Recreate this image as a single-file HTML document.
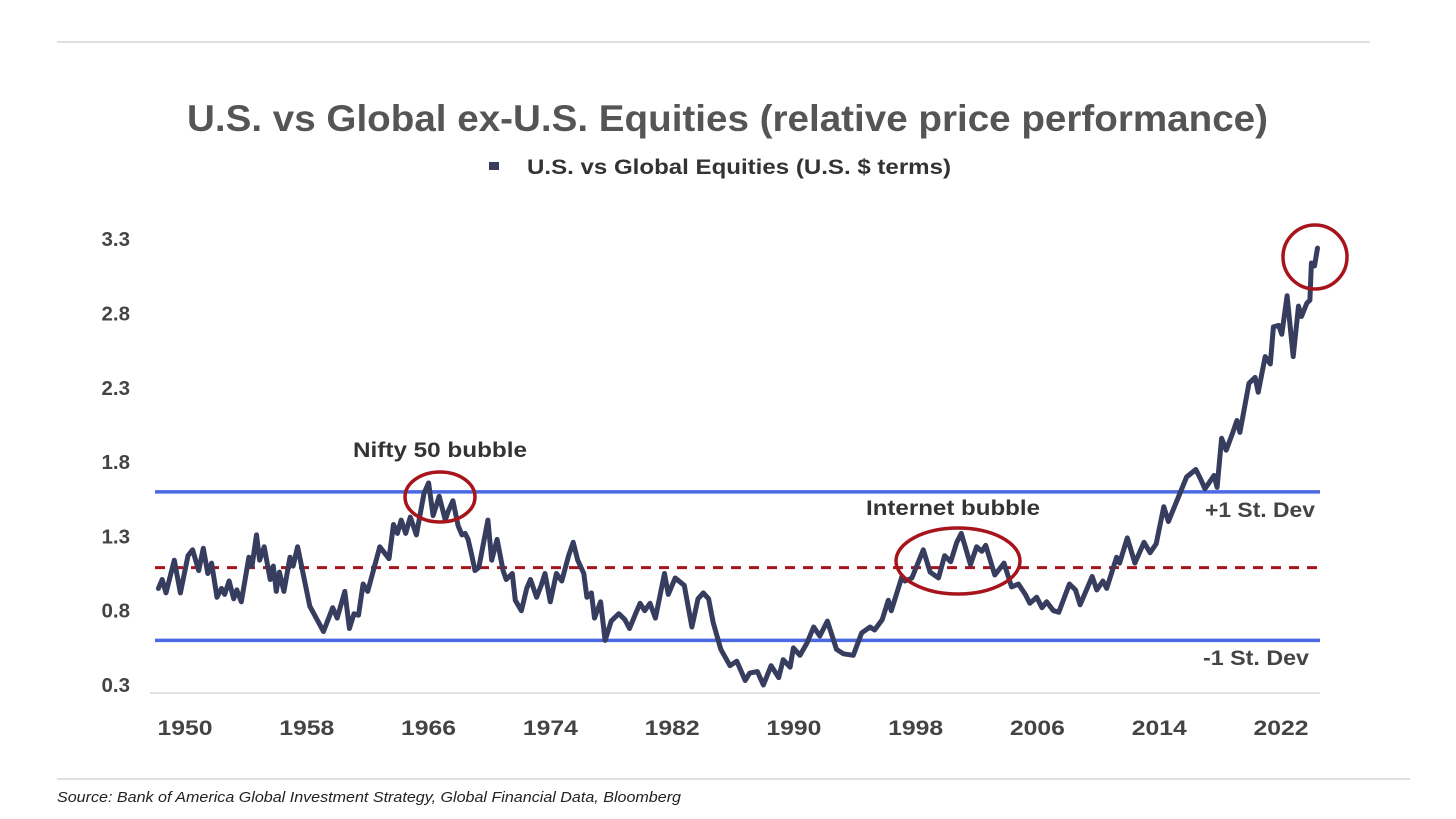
<!DOCTYPE html>
<html><head><meta charset="utf-8">
<style>
html,body{margin:0;padding:0;background:#fff;}
svg{display:block;font-family:"Liberation Sans",Arial,sans-serif;}
</style></head>
<body>
<svg id="chart" width="1456" height="819" viewBox="0 0 1456 819" xmlns="http://www.w3.org/2000/svg">
<line x1="57" y1="42" x2="1370" y2="42" stroke="#d6d6d6" stroke-width="1.5"/>
<text x="187" y="131" textLength="1081" lengthAdjust="spacingAndGlyphs" font-size="37" font-weight="bold" fill="#555">U.S. vs Global ex-U.S. Equities (relative price performance)</text>
<g>
<rect x="489" y="162" width="10" height="8" fill="#363d5e"/>
<text x="527" y="174" textLength="424" lengthAdjust="spacingAndGlyphs" font-size="21.5" font-weight="bold" fill="#333">U.S. vs Global Equities (U.S. $ terms)</text>
</g>
<g id="yaxis"></g>
<g id="xaxis"></g>
<g id="refs"></g>
<g id="series"></g>
<g>
<text x="353" y="457" textLength="174" lengthAdjust="spacingAndGlyphs" font-size="21" font-weight="bold" fill="#333">Nifty 50 bubble</text>
<ellipse cx="440" cy="497" rx="35" ry="25" fill="none" stroke="#a8141c" stroke-width="3.5"/>
<text x="866" y="515" textLength="174" lengthAdjust="spacingAndGlyphs" font-size="21" font-weight="bold" fill="#333">Internet bubble</text>
<ellipse cx="958" cy="561" rx="62" ry="33" fill="none" stroke="#a8141c" stroke-width="3.5"/>
<circle cx="1315" cy="257" r="32" fill="none" stroke="#a8141c" stroke-width="3.5"/>
<text x="1205" y="517" textLength="110" lengthAdjust="spacingAndGlyphs" font-size="21" font-weight="bold" fill="#444">+1 St. Dev</text>
<text x="1203" y="665" textLength="106" lengthAdjust="spacingAndGlyphs" font-size="21" font-weight="bold" fill="#444">-1 St. Dev</text>
</g>
<line x1="57" y1="779" x2="1410" y2="779" stroke="#d6d6d6" stroke-width="1.5"/>
<text x="57" y="802" textLength="624" lengthAdjust="spacingAndGlyphs" font-size="15" font-style="italic" fill="#222">Source: Bank of America Global Investment Strategy, Global Financial Data, Bloomberg</text>
</svg>
<script>
const yTicks=[0.3,0.8,1.3,1.8,2.3,2.8,3.3];
const xTicks=[1950,1958,1966,1974,1982,1990,1998,2006,2014,2022];
const refValues=[1.60,1.09,0.60];
const years=[1948.25,1948.5,1948.75,1949.3,1949.7,1950.2,1950.5,1950.9,1951.2,1951.5,1951.75,1952.1,1952.4,1952.6,1952.9,1953.2,1953.4,1953.7,1954.2,1954.4,1954.7,1954.9,1955.2,1955.6,1955.8,1956.0,1956.2,1956.5,1956.9,1957.1,1957.4,1958.2,1959.1,1959.7,1960.0,1960.5,1960.8,1961.1,1961.4,1961.7,1962.0,1962.8,1963.4,1963.7,1963.95,1964.2,1964.5,1964.8,1965.2,1965.7,1966.0,1966.3,1966.7,1967.1,1967.3,1967.6,1967.95,1968.2,1968.4,1968.6,1968.8,1969.05,1969.3,1969.9,1970.15,1970.5,1970.9,1971.1,1971.5,1971.7,1972.1,1972.45,1972.7,1973.1,1973.4,1973.65,1974.0,1974.4,1974.75,1975.2,1975.5,1975.8,1976.2,1976.4,1976.7,1976.9,1977.3,1977.6,1978.0,1978.5,1978.9,1979.2,1979.6,1979.9,1980.2,1980.55,1980.9,1981.5,1981.75,1982.2,1982.8,1983.3,1983.7,1984.05,1984.4,1984.7,1985.2,1985.8,1986.25,1986.8,1987.1,1987.6,1988.0,1988.5,1989.0,1989.3,1989.75,1989.97,1990.4,1990.85,1991.3,1991.7,1992.2,1992.8,1993.25,1993.9,1994.45,1995.0,1995.3,1995.8,1996.2,1996.4,1997.1,1997.3,1997.75,1998.5,1998.95,1999.5,1999.9,2000.3,2000.7,2001.0,2001.6,2002.0,2002.35,2002.6,2003.2,2003.8,2004.3,2004.75,2005.2,2005.5,2005.95,2006.3,2006.6,2007.05,2007.4,2008.1,2008.5,2008.8,2009.6,2009.9,2010.3,2010.55,2011.2,2011.4,2011.9,2012.4,2013.0,2013.4,2013.8,2014.3,2014.6,2015.8,2016.4,2016.7,2017.0,2017.6,2017.8,2018.1,2018.4,2018.8,2019.1,2019.3,2019.9,2020.3,2020.5,2020.96,2021.3,2021.5,2021.85,2022.05,2022.4,2022.8,2023.15,2023.35,2023.7,2023.9,2024.0,2024.2,2024.4];
const values=[0.95,1.01,0.92,1.14,0.92,1.17,1.21,1.07,1.22,1.05,1.12,0.89,0.95,0.91,1.00,0.88,0.94,0.86,1.16,1.10,1.31,1.14,1.23,1.01,1.10,0.93,1.06,0.93,1.16,1.10,1.23,0.83,0.66,0.82,0.75,0.93,0.68,0.78,0.77,0.98,0.93,1.23,1.15,1.38,1.32,1.41,1.32,1.43,1.31,1.59,1.66,1.44,1.57,1.41,1.47,1.54,1.37,1.31,1.32,1.28,1.19,1.07,1.09,1.41,1.14,1.28,1.07,1.01,1.05,0.87,0.80,0.95,1.01,0.89,0.97,1.05,0.86,1.05,1.00,1.17,1.26,1.14,1.05,0.89,0.92,0.75,0.86,0.60,0.73,0.78,0.74,0.68,0.78,0.85,0.80,0.85,0.75,1.05,0.91,1.02,0.97,0.69,0.88,0.92,0.88,0.72,0.54,0.43,0.46,0.33,0.38,0.39,0.30,0.43,0.35,0.47,0.42,0.55,0.50,0.58,0.69,0.63,0.73,0.54,0.51,0.50,0.65,0.69,0.67,0.74,0.87,0.80,1.03,1.00,1.02,1.21,1.06,1.02,1.17,1.13,1.26,1.32,1.11,1.23,1.20,1.24,1.04,1.12,0.96,0.98,0.91,0.85,0.89,0.82,0.86,0.80,0.79,0.98,0.94,0.84,1.03,0.94,1.00,0.95,1.16,1.12,1.29,1.12,1.26,1.19,1.25,1.50,1.40,1.70,1.75,1.69,1.62,1.71,1.63,1.96,1.88,1.99,2.08,2.00,2.33,2.37,2.27,2.51,2.46,2.71,2.72,2.66,2.92,2.51,2.85,2.78,2.87,2.89,3.14,3.12,3.24];

const NS='http://www.w3.org/2000/svg';
function X(yr){return 185+(yr-1950)*(1281-185)/72;}
function Y(v){return 685-(v-0.3)*148.6;}
function mk(tag,attrs,parent){const e=document.createElementNS(NS,tag);for(const k in attrs)e.setAttribute(k,attrs[k]);parent.appendChild(e);return e;}

const ya=document.getElementById('yaxis');
yTicks.forEach(t=>{
  const tx=mk('text',{x:130,y:Y(t)+7,'text-anchor':'end','font-size':20.5,'font-weight':'bold',fill:'#444'},ya);
  
  
  tx.textContent=t.toFixed(1);
});
const xa=document.getElementById('xaxis');
const base=mk('line',{x1:150,y1:693,x2:1320,y2:693,stroke:'#d9d9d9','stroke-width':1.5},xa);


xTicks.forEach(t=>{
  const tx=mk('text',{x:X(t)-27.5,y:735,textLength:55,lengthAdjust:'spacingAndGlyphs','font-size':21.5,'font-weight':'bold',fill:'#444'},xa);
  
  
  tx.textContent=t;
});
const rg=document.getElementById('refs');
const refNames=['plus-one-sd-line','mean-line','minus-one-sd-line'];
refValues.forEach((v,i)=>{
  const a={x1:155,y1:Y(v),x2:1320,y2:Y(v),'stroke-width':3.5};
  if(i===1){a.stroke='#a8141c';a['stroke-dasharray']='10 8';a['stroke-width']=3;}else{a.stroke='#4a69e2';}
  const l=mk('line',a,rg);
  
  
});
const sg=document.getElementById('series');
let d='';
years.forEach((yr,i)=>{d+=(i?'L':'M')+X(yr).toFixed(1)+' '+Y(values[i]).toFixed(1);});
const p=mk('path',{d:d,fill:'none',stroke:'#363d5e','stroke-width':5,'stroke-linejoin':'round','stroke-linecap':'round'},sg);


</script>
</body></html>
